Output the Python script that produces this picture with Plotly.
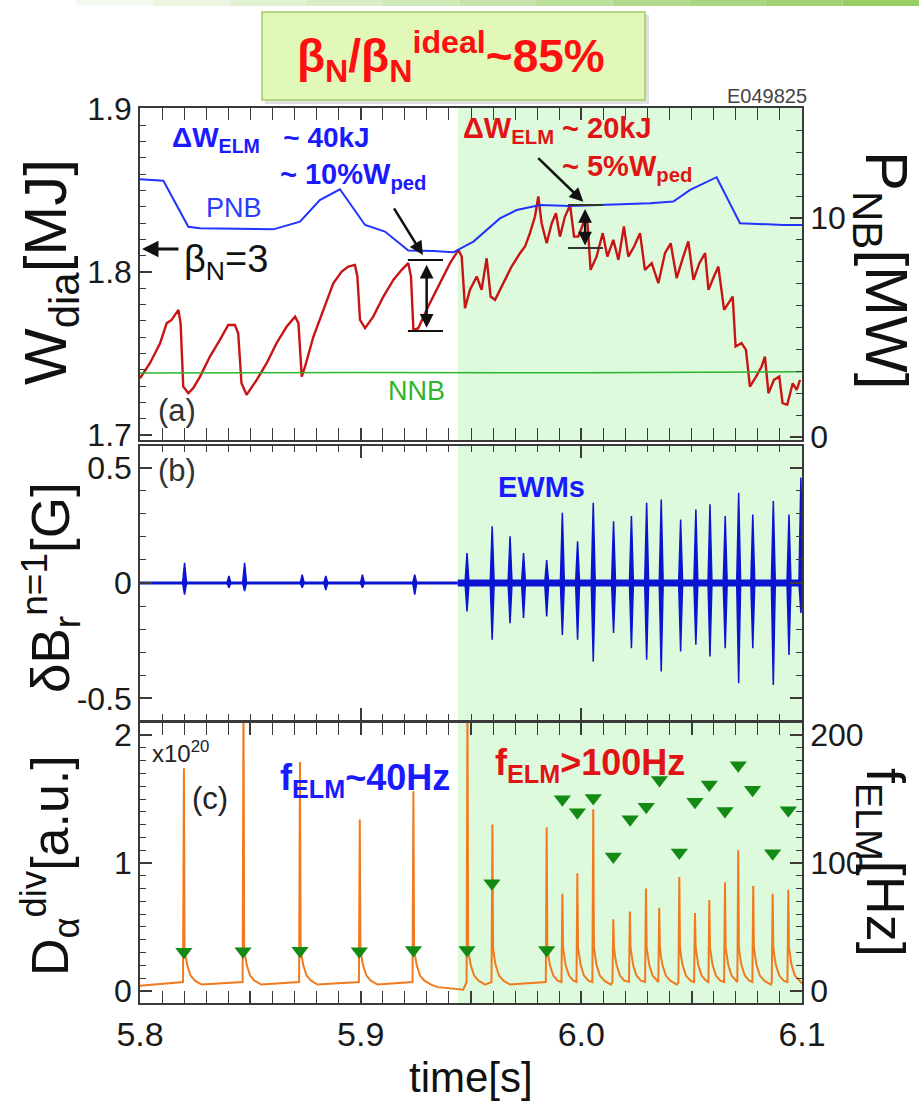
import plotly.graph_objects as go

# ---------------- data ----------------
# Panel (a): diamagnetic stored energy W_dia [MJ]
t_w = [5.8000, 5.8045, 5.8091, 5.8121, 5.8143, 5.8174, 5.8184, 5.8196, 5.8219, 5.8241,
       5.8272, 5.8317, 5.8362, 5.8400, 5.8430, 5.8445, 5.8460, 5.8483, 5.8529, 5.8574,
       5.8619, 5.8665, 5.8703, 5.8718, 5.8733, 5.8748, 5.8786, 5.8831, 5.8876, 5.8914,
       5.8944, 5.8974, 5.8985, 5.8997, 5.9020, 5.9057, 5.9103, 5.9148, 5.9186, 5.9216,
       5.9228, 5.9239, 5.9261, 5.9306, 5.9359, 5.9405, 5.9443, 5.9458, 5.9473, 5.9495,
       5.9526, 5.9548, 5.9571, 5.9589, 5.9609, 5.9647, 5.9684, 5.9722, 5.9745, 5.9767,
       5.9790, 5.9805, 5.9820, 5.9843, 5.9866, 5.9885, 5.9903, 5.9926, 5.9949, 5.9967,
       5.9986, 6.0009, 6.0027, 6.0042, 6.0069, 6.0097, 6.0118, 6.0145, 6.0168, 6.0193,
       6.0213, 6.0239, 6.0266, 6.0288, 6.0319, 6.0349, 6.0379, 6.0405, 6.0432, 6.0462,
       6.0485, 6.0508, 6.0535, 6.0561, 6.0576, 6.0601, 6.0621, 6.0647, 6.0666, 6.0686,
       6.0699, 6.0726, 6.0746, 6.0764, 6.0792, 6.0817, 6.0832, 6.0848, 6.0873, 6.0897,
       6.0912, 6.0933, 6.0958, 6.0976, 6.0991]
w_dia = [1.7348, 1.7440, 1.7563, 1.7686, 1.7706, 1.7767, 1.7686, 1.7297, 1.7256, 1.7287,
         1.7358, 1.7481, 1.7583, 1.7675, 1.7675, 1.7624, 1.7317, 1.7246, 1.7338, 1.7440,
         1.7563, 1.7665, 1.7726, 1.7686, 1.7358, 1.7420, 1.7604, 1.7767, 1.7931, 1.8002,
         1.8033, 1.8043, 1.7972, 1.7706, 1.7655, 1.7726, 1.7849, 1.7951, 1.8013, 1.8054,
         1.7972, 1.7645, 1.7655, 1.7788, 1.7931, 1.8054, 1.8135, 1.8094, 1.7777, 1.7890,
         1.7972, 1.7890, 1.8084, 1.7849, 1.7829, 1.7931, 1.8033, 1.8115, 1.8156, 1.8238,
         1.8340, 1.8463, 1.8299, 1.8176, 1.8299, 1.8360, 1.8217, 1.8340, 1.8411, 1.8217,
         1.8217, 1.8299, 1.8319, 1.8013, 1.8094, 1.8238, 1.8094, 1.8197, 1.8074, 1.8279,
         1.8094, 1.8156, 1.8238, 1.8013, 1.8054, 1.7931, 1.8115, 1.8176, 1.7962, 1.8094,
         1.8187, 1.7951, 1.8054, 1.8115, 1.7890, 1.7972, 1.8033, 1.7767, 1.7808, 1.7849,
         1.7542, 1.7563, 1.7522, 1.7297, 1.7358, 1.7420, 1.7481, 1.7256, 1.7338, 1.7358,
         1.7195, 1.7185, 1.7317, 1.7276, 1.7338]

# Panel (a): beam powers [MW]
t_pnb = [5.8000, 5.8106, 5.8219, 5.8272, 5.8604, 5.8725, 5.8815, 5.8906, 5.9020, 5.9110,
         5.9216, 5.9329, 5.9420, 5.9511, 5.9631, 5.9707, 5.9813, 5.9949, 6.0311, 6.0417,
         6.0493, 6.0613, 6.0719, 6.0915, 6.1000]
p_pnb = [11.77, 11.70, 9.60, 9.53, 9.48, 9.83, 10.82, 11.31, 9.68, 9.38,
         8.51, 8.49, 8.43, 8.92, 9.98, 10.36, 10.59, 10.55, 10.67, 10.75,
         11.28, 11.86, 9.76, 9.68, 9.68]
t_nnb = [5.80, 5.90, 6.00, 6.10]
p_nnb = [2.92, 2.95, 2.93, 2.98]

# Delta W_ELM markers (panel a)
dw1_t = [5.9214, 5.9373, 5.9299]
dw1_w = [1.8074, 1.7638]
dw2_t = [5.9940, 6.0098, 6.0017]
dw2_w = [1.8411, 1.8147]
betaN3_w = 1.8141

# Panel (b): n=1 magnetic bursts (EWMs) [G]
burst_t = [5.8202, 5.8403, 5.8474, 5.8735, 5.8842, 5.9008, 5.9245, 5.9482, 5.9596, 5.9677,
           5.9738, 5.9843, 5.9914, 5.9983, 6.0054, 6.0146, 6.0227, 6.0296, 6.0362, 6.0450,
           6.0519, 6.0583, 6.0652, 6.0713, 6.0777, 6.0870, 6.0941, 6.0995]
burst_max = [0.087, 0.030, 0.087, 0.036, 0.030, 0.036, 0.036, 0.130, 0.246, 0.203,
             0.130, 0.100, 0.304, 0.181, 0.348, 0.268, 0.290, 0.348, 0.362, 0.275,
             0.319, 0.341, 0.290, 0.391, 0.297, 0.355, 0.297, 0.457]
burst_min = [-0.050, -0.020, -0.035, -0.020, -0.030, -0.020, -0.050, -0.123, -0.246, -0.174,
             -0.152, -0.145, -0.225, -0.246, -0.341, -0.217, -0.283, -0.333, -0.384, -0.297,
             -0.268, -0.319, -0.283, -0.435, -0.283, -0.442, -0.312, -0.130]
ewm_start = 5.944

# Panel (c): divertor D-alpha [x1e20 a.u.]
elm_t = [5.8199, 5.8469, 5.8725, 5.8996, 5.9239, 5.9484, 5.9597, 5.9843, 5.9914, 5.9982,
         6.0054, 6.0145, 6.0220, 6.0293, 6.0353, 6.0444, 6.0515, 6.0580, 6.0651, 6.0711,
         6.0779, 6.0867, 6.0938]
elm_peak = [1.74, 2.30, 1.79, 1.34, 1.56, 2.30, 1.30, 1.28, 0.76, 0.92,
            1.42, 0.56, 0.62, 0.80, 0.65, 0.89, 0.61, 0.71, 0.85, 1.10,
            0.82, 0.76, 0.79]
elm_pre = 0.07
tail_dt = [0.0003, 0.0008, 0.0015, 0.0030, 0.0050, 0.0080]
tail_val = [0.34, 0.27, 0.20, 0.12, 0.08, 0.05]
base_t = [5.8000, 5.9350, 5.9465, 6.1000]
base_v = [0.04, 0.03, 0.01, 0.06]

# Panel (c): ELM frequency [Hz]
felm_t = [5.8199, 5.8467, 5.8725, 5.8994, 5.9239, 5.9482, 5.9595, 5.9843, 5.9914, 5.9982,
          6.0054, 6.0145, 6.0221, 6.0294, 6.0354, 6.0444, 6.0515, 6.0580, 6.0651, 6.0711,
          6.0776, 6.0867, 6.0938]
felm = [30.7, 31.1, 31.5, 31.1, 32.1, 32.1, 84.1, 32.1, 149.9, 139.6,
        150.7, 105.1, 134.1, 143.9, 164.8, 108.2, 147.8, 161.3, 140.7, 176.4,
        157.3, 107.6, 141.2]

x_tickvals = [5.8, 5.85, 5.9, 5.95, 6.0, 6.05, 6.1]
x_ticktext = ["5.8", "", "5.9", "", "6.0", "", "6.1"]

# ---------------- layout helpers ----------------
W, H = 919, 1104
ML, MR, MT, MB = 140, 117, 108, 101
PW, PH = W - ML - MR, H - MT - MB


def pxp(x):
    return (x - ML) / PW


def pyp(y):
    return (H - MB - y) / PH


FONT = "Liberation Sans, Arial, sans-serif"
AX = "#3a3a3a"
RED = "#c81414"
BLUE = "#2233ff"
DBLUE = "#0a14d2"
GREEN = "#2db52d"
ORANGE = "#f27a1e"
TRI = "#138a13"
SHADE = "rgb(222,250,220)"

fig = go.Figure()

# panel (a)
fig.add_trace(go.Scatter(x=t_w, y=w_dia, mode="lines", line=dict(color=RED, width=2.4),
                         xaxis="x", yaxis="y", hoverinfo="skip"))
fig.add_trace(go.Scatter(x=t_pnb, y=p_pnb, mode="lines", line=dict(color=BLUE, width=2),
                         xaxis="x", yaxis="y2", hoverinfo="skip"))
fig.add_trace(go.Scatter(x=t_nnb, y=p_nnb, mode="lines", line=dict(color=GREEN, width=1.5),
                         xaxis="x", yaxis="y2", hoverinfo="skip"))

# panel (b)
fig.add_trace(go.Scatter(x=[5.8, ewm_start], y=[0, 0], mode="lines",
                         line=dict(color=DBLUE, width=3), xaxis="x2", yaxis="y3"))
fig.add_trace(go.Scatter(x=[ewm_start, 6.1], y=[0, 0], mode="lines",
                         line=dict(color=DBLUE, width=7), xaxis="x2", yaxis="y3"))
HALF = 0.0009  # half width of a burst packet (drawing style)
for t0, hi, lo in zip(burst_t, burst_max, burst_min):
    fig.add_trace(go.Scatter(x=[t0 - HALF, t0, t0 + HALF, t0, t0 - HALF],
                             y=[0, hi, 0, lo, 0], mode="lines", fill="toself",
                             fillcolor=DBLUE, line=dict(color=DBLUE, width=1.5),
                             xaxis="x2", yaxis="y3", hoverinfo="skip"))

# panel (c)
pts = list(zip(base_t, base_v))
for i, (t0, pk) in enumerate(zip(elm_t, elm_peak)):
    nxt = elm_t[i + 1] if i + 1 < len(elm_t) else 9.0
    pts.append((t0 - 0.0004, elm_pre))
    pts.append((t0, pk))
    for dt, v in zip(tail_dt, tail_val):
        if t0 + dt < nxt - 0.0006:
            pts.append((t0 + dt, v))
pts.sort()
fig.add_trace(go.Scatter(x=[p[0] for p in pts], y=[p[1] for p in pts], mode="lines",
                         line=dict(color=ORANGE, width=2), xaxis="x3", yaxis="y4"))
fig.add_trace(go.Scatter(x=felm_t, y=felm, mode="markers",
                         marker=dict(symbol="triangle-down", size=15, color=TRI),
                         xaxis="x3", yaxis="y5"))

# ---------------- axes ----------------
dom_a = [pyp(440), 1.0]
dom_b = [pyp(720), pyp(446)]
dom_c = [0.0, pyp(723)]
tickfont = dict(family=FONT, size=32, color="#1a1a1a")
common = dict(showline=True, linecolor=AX, linewidth=1.5, ticks="inside", tickcolor=AX,
              tickwidth=1.5, showgrid=False, zeroline=False, tickfont=tickfont)

xcommon = dict(common, range=[5.8, 6.1], tickmode="array", tickvals=x_tickvals,
               ticktext=x_ticktext, ticklen=12, mirror="allticks",
               minor=dict(tick0=5.8, dtick=0.01, ticks="inside", ticklen=6,
                          tickcolor=AX, tickwidth=1.2))

fig.update_layout(
    width=W, height=H,
    margin=dict(l=ML, r=MR, t=MT, b=MB),
    paper_bgcolor="white", plot_bgcolor="white", showlegend=False,
    font=dict(family=FONT),
    xaxis=dict(xcommon, domain=[0, 1], anchor="y", showticklabels=False),
    xaxis2=dict(xcommon, domain=[0, 1], anchor="y3", matches="x", showticklabels=False),
    xaxis3=dict(xcommon, domain=[0, 1], anchor="y4", matches="x", showticklabels=True,
                tickfont=dict(family=FONT, size=34, color="#1a1a1a")),
    yaxis=dict(common, domain=dom_a, anchor="x", range=[1.6969, 1.9006],
               tick0=1.7, dtick=0.1, tickformat=".1f", ticklen=12,
               minor=dict(tick0=1.7, dtick=0.01, ticks="inside", ticklen=6,
                          tickcolor=AX, tickwidth=1.2)),
    yaxis2=dict(common, overlaying="y", side="right", anchor="x", range=[-0.137, 15.02],
                tickvals=[0, 10], ticklen=12,
                minor=dict(tick0=0, dtick=1, ticks="inside", ticklen=6,
                           tickcolor=AX, tickwidth=1.2)),
    yaxis3=dict(common, domain=dom_b, anchor="x2", range=[-0.594, 0.594],
                tickvals=[-0.5, 0, 0.5], ticktext=["-0.5", "0", "0.5"], ticklen=12,
                mirror="allticks",
                minor=dict(tick0=0, dtick=0.1, ticks="inside", ticklen=6,
                           tickcolor=AX, tickwidth=1.2)),
    yaxis4=dict(common, domain=dom_c, anchor="x3", range=[-0.094, 2.094],
                tickvals=[0, 1, 2], ticklen=12,
                minor=dict(tick0=0, dtick=0.1, ticks="inside", ticklen=6,
                           tickcolor=AX, tickwidth=1.2)),
    yaxis5=dict(common, overlaying="y4", side="right", anchor="x3", range=[-9.4, 209.4],
                tickvals=[0, 100, 200], ticklen=12,
                minor=dict(tick0=0, dtick=10, ticks="inside", ticklen=6,
                           tickcolor=AX, tickwidth=1.2)),
)

# ---------------- shapes ----------------
shapes = []
for yr in ["y domain", "y3 domain", "y4 domain"]:
    shapes.append(dict(type="rect", xref="x", yref=yr, x0=ewm_start, x1=6.1, y0=0, y1=1,
                       fillcolor=SHADE, line=dict(width=0), layer="below"))
# top slide strip (gradient)
nseg = 12
for i in range(nseg):
    f = i / (nseg - 1)
    r = int(255 - f * (255 - 150))
    g = int(255 - f * (255 - 205))
    b = int(255 - f * (255 - 100))
    shapes.append(dict(type="rect", xref="paper", yref="paper",
                       x0=pxp(W * i / nseg), x1=pxp(W * (i + 1) / nseg),
                       y0=pyp(6), y1=pyp(0), fillcolor=f"rgb({r},{g},{b})",
                       line=dict(width=0), layer="above"))
# title box shadow + box
shapes.append(dict(type="rect", xref="paper", yref="paper", x0=pxp(265), x1=pxp(649),
                   y0=pyp(104), y1=pyp(15), fillcolor="rgba(0,0,0,0.12)",
                   line=dict(width=0)))
shapes.append(dict(type="rect", xref="paper", yref="paper", x0=pxp(262), x1=pxp(645),
                   y0=pyp(100), y1=pyp(12), fillcolor="rgb(226,248,185)",
                   line=dict(color="rgb(160,205,100)", width=1.5)))
# Delta W bars
for (xa, xb, _), ws, col in [(dw1_t, dw1_w, "#111111"), (dw2_t, dw2_w, "#333333")]:
    for wv in ws:
        shapes.append(dict(type="line", xref="x", yref="y", x0=xa, x1=xb, y0=wv, y1=wv,
                           line=dict(color=col, width=2)))
fig.update_layout(shapes=shapes)

# ---------------- annotations ----------------
ann = []


def txt(x, y, text, size, color, xanchor="left", angle=0, yanchor="middle"):
    ann.append(dict(x=pxp(x), y=pyp(y), xref="paper", yref="paper", text=text,
                    showarrow=False, xanchor=xanchor, yanchor=yanchor, textangle=angle,
                    font=dict(family=FONT, size=size, color=color)))


txt(451, 57, "<b>β<sub>N</sub>/β<sub>N</sub><sup>ideal</sup>~85%</b>", 46, "#ff1010",
    xanchor="center")
txt(809, 96, "E049825", 20, "#444444", xanchor="right")

# axis titles
txt(50, 272, "W<sub>dia</sub>[MJ]", 60, "#111111", xanchor="center", angle=-90)
txt(882, 270, "P<sub>NB</sub>[MW]", 60, "#111111", xanchor="center", angle=90)
txt(50, 588, "δB<sub>r</sub><sup>n=1</sup>[G]", 53, "#111111", xanchor="center", angle=-90)
txt(50, 866, "D<sub>α</sub><sup>div</sup>[a.u.]", 52, "#111111", xanchor="center", angle=-90)
txt(882, 862, "f<sub>ELM</sub>[Hz]", 54, "#111111", xanchor="center", angle=90)
txt(471, 1077, "time[s]", 42, "#111111", xanchor="center")

# panel (a)
txt(170, 140, "<b>ΔW<sub>ELM</sub>   ~ 40kJ</b>", 28, "#1a1aff")
txt(278, 176, "<b>~ 10%W<sub>ped</sub></b>", 29, "#1a1aff")
txt(204, 208, "PNB", 27, "#2a3cff")
txt(182, 262, "β<sub>N</sub>=3", 38, "#111111")
txt(386, 391, "NNB", 27, "#2db52d")
txt(156, 410, "(a)", 31, "#333333")
txt(461, 130, "<b>ΔW<sub>ELM</sub> ~ 20kJ</b>", 29, "#e01414")
txt(560, 168, "<b>~ 5%W<sub>ped</sub></b>", 29, "#e01414")
# panel (b)
txt(156, 470, "(b)", 31, "#333333")
txt(496, 487, "<b>EWMs</b>", 29, "#1a1aff")
# panel (c)
txt(150, 752, "x10<sup>20</sup>", 24, "#222222")
txt(190, 798, "(c)", 31, "#222222")
txt(278, 780, "<b>f<sub>ELM</sub>~40Hz</b>", 36, "#1a1aff")
txt(493, 765, "<b>f<sub>ELM</sub>>100Hz</b>", 36, "#e01414")


def arrow(xh, yh, xt, yt, both=False, width=2.5):
    ann.append(dict(x=xh, y=yh, ax=xt, ay=yt, xref="x", yref="y", axref="x", ayref="y",
                    text="", showarrow=True, arrowhead=2, arrowsize=1.1, arrowwidth=width,
                    arrowcolor="#111111", arrowside="end+start" if both else "end"))


arrow(5.8009, betaN3_w, 5.8181, betaN3_w, width=3)
arrow(5.9282, 1.8104, 5.9147, 1.8399)
arrow(dw1_t[2], dw1_w[1] + 0.002, dw1_t[2], dw1_w[0] - 0.002, both=True)
arrow(6.0009, 1.8431, 5.9798, 1.8707)
arrow(dw2_t[2], dw2_w[1] + 0.0015, dw2_t[2], dw2_w[0] - 0.0015, both=True)

fig.update_layout(annotations=ann)
fig.write_html("out.html")
